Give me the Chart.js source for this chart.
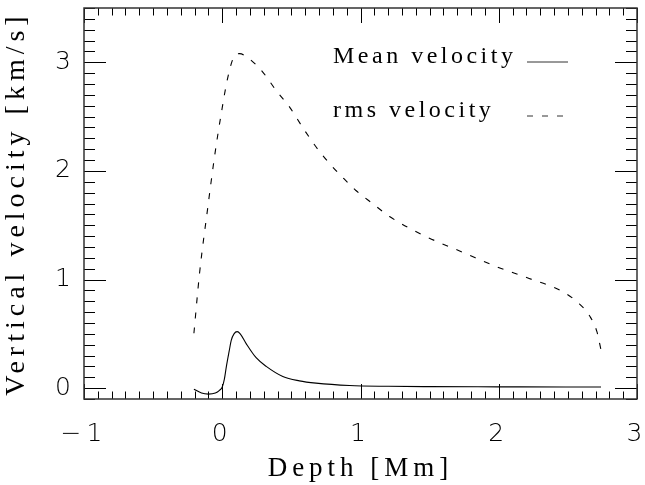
<!DOCTYPE html>
<html>
<head>
<meta charset="utf-8">
<script src="https://cdn.jsdelivr.net/npm/chart.js@4"></script>
<style>
  body { margin: 0; background: #fff; }
</style>
</head>
<body>
<canvas id="velChart" width="645" height="485"></canvas>
<script>
// depth [Mm] and velocity [km/s]
const depthMean = [-0.205, -0.15, -0.10, -0.05, -0.02, 0.0, 0.015, 0.03, 0.05, 0.065, 0.085, 0.108, 0.13, 0.173, 0.245, 0.318, 0.438, 0.558, 0.678, 0.92, 1.2, 1.5, 2.0, 2.5, 2.74];
const meanVel   = [-0.01, -0.045, -0.055, -0.045, -0.02, 0.01, 0.08, 0.2, 0.34, 0.44, 0.5, 0.52, 0.5, 0.41, 0.28, 0.2, 0.107, 0.067, 0.046, 0.024, 0.017, 0.014, 0.012, 0.01, 0.01];

const depthRms = [-0.205, -0.164, -0.104, -0.056, -0.007, 0.04, 0.089, 0.125, 0.197, 0.293, 0.39, 0.486, 0.582, 0.679, 0.775, 0.871, 0.967, 1.087, 1.21, 1.45, 1.76, 1.98, 2.22, 2.46, 2.58, 2.66, 2.71, 2.74];
const rmsVel   = [0.505, 1.06, 1.67, 2.13, 2.53, 2.86, 3.06, 3.08, 3.03, 2.91, 2.74, 2.59, 2.40, 2.22, 2.07, 1.94, 1.82, 1.70, 1.58, 1.41, 1.24, 1.12, 1.01, 0.89, 0.78, 0.66, 0.52, 0.35];

const seriesNames = ['Mean velocity', 'rms velocity'];
const xTicks = [-1, 0, 1, 2, 3];
const yTicks = [0, 1, 2, 3];

const serif = "'Liberation Serif', 'DejaVu Serif', serif";
const sans = "'DejaVu Sans', sans-serif";

function pts(xs, ys) {
    return xs.map((v, i) => ({ x: v, y: ys[i] }));
}

// no extra room for half labels at the axis ends
function noPad(s) {
    s.paddingLeft = 0;
    s.paddingRight = 0;
    s.paddingTop = 0;
    s.paddingBottom = 0;
}

// letter spacing for the plotted texts (hershey-like wide look)
const spacing = {
    id: 'spacing',
    beforeDraw(chart) {
        chart.ctx.letterSpacing = '5px';
    }
};

// box round the plot with inward ticks on all four sides
const frameTicks = {
    id: 'frameTicks',
    afterDraw(chart) {
        const { ctx, chartArea: a, scales: { x, y } } = chart;
        ctx.save();
        ctx.strokeStyle = '#000';
        ctx.lineWidth = 1;
        ctx.beginPath();
        for (let i = -10; i <= 30; i++) {
            const px = Math.round(x.getPixelForValue(i / 10)) + 0.5;
            const len = i % 10 === 0 ? 15 : 7.5;
            ctx.moveTo(px, a.bottom); ctx.lineTo(px, a.bottom - len);
            ctx.moveTo(px, a.top); ctx.lineTo(px, a.top + len);
        }
        for (let i = -1; i <= 35; i++) {
            const py = Math.round(y.getPixelForValue(i / 10)) + 0.5;
            const len = i % 10 === 0 ? 22 : 11;
            ctx.moveTo(a.left, py); ctx.lineTo(a.left + len, py);
            ctx.moveTo(a.right, py); ctx.lineTo(a.right - len, py);
        }
        ctx.stroke();
        ctx.strokeStyle = '#333';
        ctx.lineWidth = 1.5;
        ctx.strokeRect(a.left, a.top, a.right - a.left, a.bottom - a.top);

        // legend: text first, line sample after it
        ctx.letterSpacing = '3.5px';
        ctx.font = '24px ' + serif;
        ctx.fillStyle = '#000';
        ctx.textBaseline = 'alphabetic';
        ctx.textAlign = 'left';
        const rows = [63, 117];
        chart.data.datasets.forEach((ds, i) => {
            ctx.fillText(ds.label, 333, rows[i]);
            ctx.beginPath();
            ctx.setLineDash(ds.borderDash || []);
            ctx.lineWidth = 1;
            ctx.moveTo(527, rows[i] - 1);
            ctx.lineTo(568, rows[i] - 1);
            ctx.stroke();
        });
        ctx.restore();
    }
};

const ctx = document.getElementById('velChart');

new Chart(ctx, {
    type: 'scatter',
    data: {
        datasets: [
            {
                label: seriesNames[0],
                data: pts(depthMean, meanVel),
                showLine: true,
                borderColor: '#000',
                borderWidth: 1.1,
                pointRadius: 0,
                cubicInterpolationMode: 'monotone'
            },
            {
                label: seriesNames[1],
                data: pts(depthRms, rmsVel),
                showLine: true,
                borderColor: '#000',
                borderWidth: 1.1,
                borderDash: [6, 9],
                pointRadius: 0,
                cubicInterpolationMode: 'monotone'
            }
        ]
    },
    options: {
        responsive: false,
        animation: false,
        layout: { padding: { top: 8, right: 8, left: 0, bottom: 0 } },
        plugins: {
            legend: { display: false },
            tooltip: { enabled: false }
        },
        scales: {
            x: {
                type: 'linear',
                min: -1,
                max: 3,
                afterBuildTicks: s => { s.ticks = xTicks.map(v => ({ value: v })); },
                afterFit: s => { s.height = 86; noPad(s); },
                grid: { display: false, drawTicks: false },
                border: { display: false },
                ticks: {
                    padding: 20,
                    color: '#000',
                    font: { family: sans, size: 25, weight: 200 },
                    callback: v => String(v).replace('-', '\u2212')
                },
                title: {
                    display: true,
                    text: 'Depth [Mm]',
                    color: '#000',
                    font: { family: serif, size: 27, lineHeight: 1.2 },
                    padding: 0
                }
            },
            y: {
                type: 'linear',
                min: -0.1,
                max: 3.5,
                afterBuildTicks: s => { s.ticks = yTicks.map(v => ({ value: v })); },
                afterFit: s => { s.width = 84; noPad(s); },
                grid: { display: false, drawTicks: false },
                border: { display: false },
                ticks: {
                    padding: 8,
                    color: '#000',
                    font: { family: sans, size: 25, weight: 200 }
                },
                title: {
                    display: true,
                    text: 'Vertical velocity [km/s]',
                    color: '#000',
                    font: { family: serif, size: 28, lineHeight: 1.2 },
                    padding: 0
                }
            }
        }
    },
    plugins: [spacing, frameTicks]
});
</script>
</body>
</html>
